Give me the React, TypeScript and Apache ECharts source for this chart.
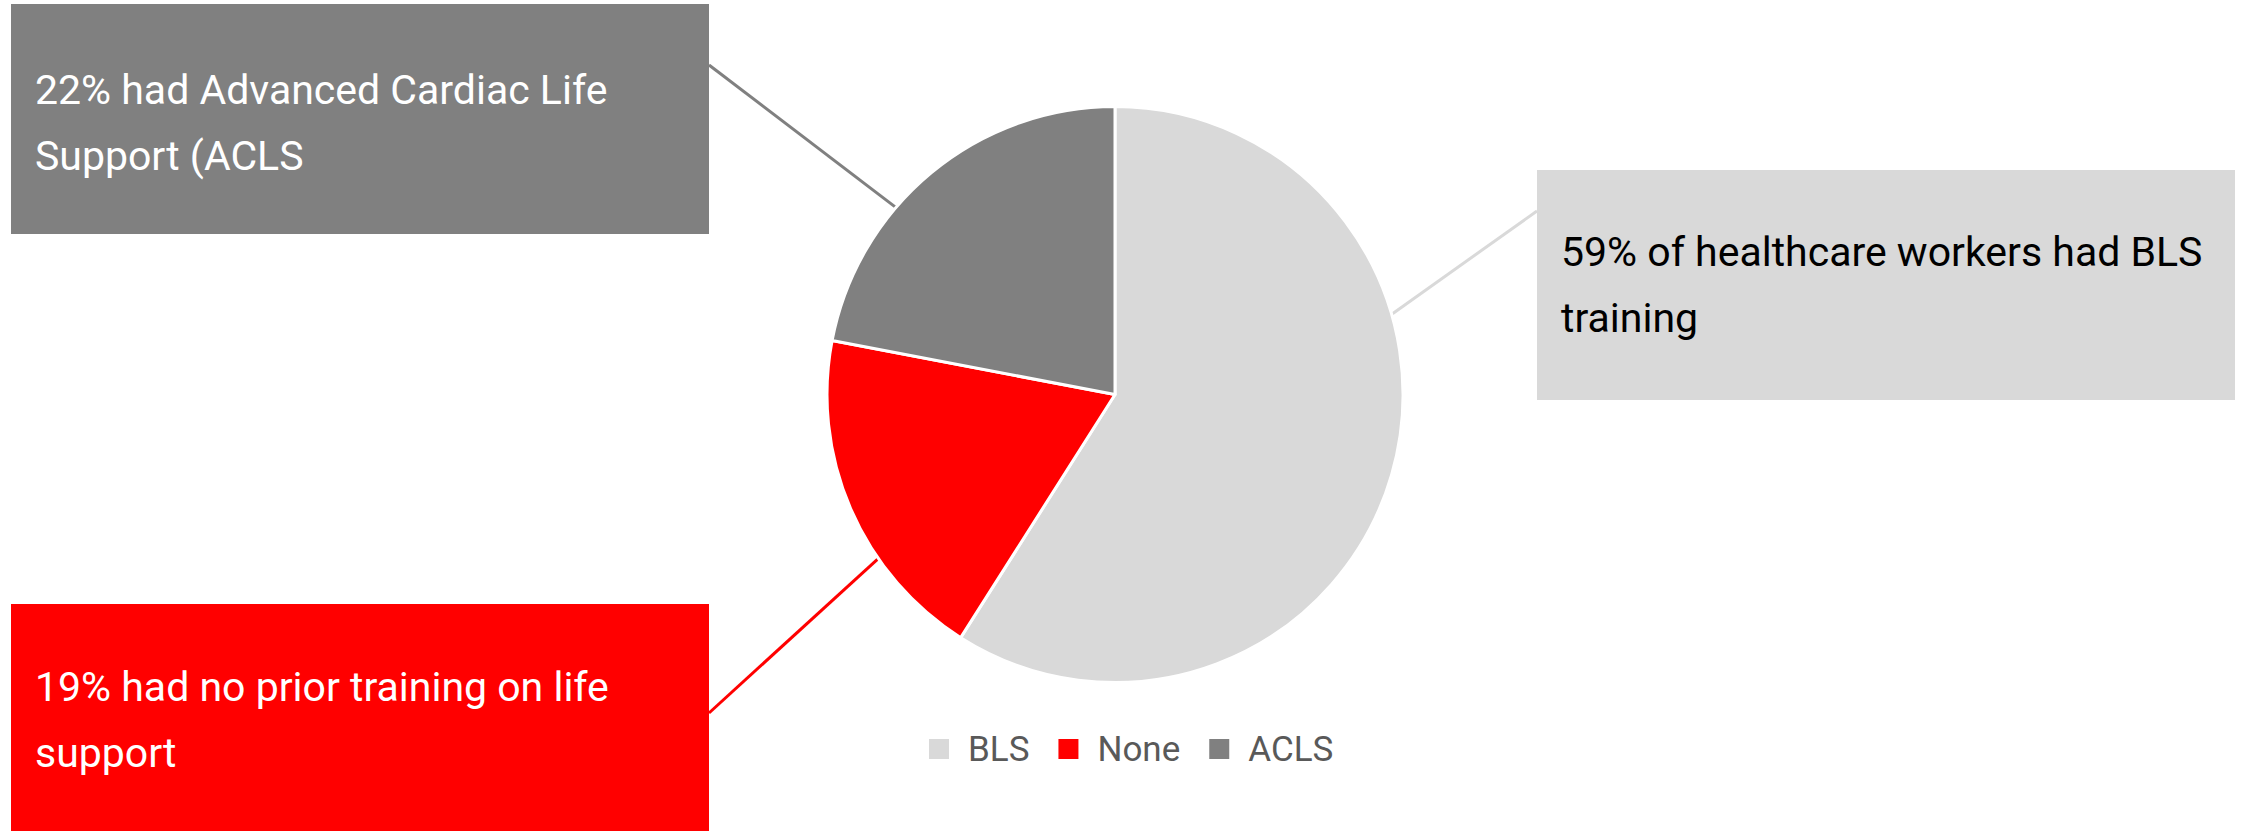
import React, { useEffect, useRef } from "react";
import * as echarts from "echarts";

// ---- data ----
const CATEGORIES = ["BLS", "None", "ACLS"];
const VALUES = [59, 19, 22];
const CAPTIONS = [
  "of healthcare workers had BLS\ntraining",
  "had no prior training on life\nsupport",
  "had Advanced Cardiac Life\nSupport (ACLS",
];
const COLORS = ["#D9D9D9", "#FF0000", "#808080"];
const TEXT_COLORS = ["#000000", "#FFFFFF", "#FFFFFF"];

// ---- callout layout (annotation positions, px) ----
const PIE_CENTER = [1115, 394.5];
const PIE_RADIUS = 288;
const BOX_W = 698;
const BOX_H = 230;
const LINE_H = 66;
const BOX_PAD_X = 24;
const BOX_POS = [
  [1537, 170],
  [11, 604],
  [11, 4],
];
const BOX_PAD_TOP = [49, 50, 53];
const LEADER_ATTACH = [
  [0, 41],
  [698, 109],
  [698, 61],
];
const LEADER_EDGE_ANGLE = [16.1, 214.7, 139.5];

const FONT = 'Roboto, "Liberation Sans Narrow", "DejaVu Sans Condensed", sans-serif';

export default function App() {
  const ref = useRef<HTMLDivElement>(null);

  useEffect(() => {
    document.body.style.margin = "0";
    if (!ref.current) return;
    const chart = echarts.init(ref.current, undefined, { renderer: "svg" });

    const data = CATEGORIES.map((name, i) => ({
      name,
      value: VALUES[i],
      itemStyle: { color: COLORS[i] },
      label: {
        formatter: `${VALUES[i]}% ${CAPTIONS[i]}`,
        color: TEXT_COLORS[i],
        backgroundColor: COLORS[i],
        padding: [
          BOX_PAD_TOP[i],
          BOX_PAD_X,
          BOX_H - 2 * LINE_H - BOX_PAD_TOP[i],
          BOX_PAD_X,
        ],
      },
      labelLine: { lineStyle: { color: COLORS[i], width: 3 } },
    }));

    chart.setOption({
      animation: false,
      backgroundColor: "#FFFFFF",
      legend: {
        show: true,
        left: 927,
        top: 727,
        padding: 0,
        icon: "rect",
        itemWidth: 22,
        itemHeight: 22,
        itemGap: 27,
        data: CATEGORIES,
        selectedMode: false,
        textStyle: {
          fontFamily: FONT,
          fontSize: 35,
          lineHeight: 44,
          color: "#595959",
          padding: [0, 0, 0, 13],
        },
      },
      series: [
        {
          type: "pie",
          center: PIE_CENTER,
          radius: PIE_RADIUS,
          startAngle: 90,
          clockwise: true,
          avoidLabelOverlap: false,
          silent: true,
          emphasis: { disabled: true },
          itemStyle: { borderColor: "#FFFFFF", borderWidth: 3 },
          label: {
            show: true,
            position: "outside",
            fontFamily: FONT,
            fontSize: 41,
            lineHeight: LINE_H,
            width: BOX_W - 2 * BOX_PAD_X,
            align: "left",
            overflow: "none",
          },
          labelLine: { show: true, length: 20, length2: 20 },
          labelLayout: (params: any) => {
            const i = params.dataIndex;
            const [bx, by] = BOX_POS[i];
            const a = (LEADER_EDGE_ANGLE[i] * Math.PI) / 180;
            const ex = PIE_CENTER[0] + (PIE_RADIUS - 1) * Math.cos(a);
            const ey = PIE_CENTER[1] - (PIE_RADIUS - 1) * Math.sin(a);
            const ax = bx + LEADER_ATTACH[i][0];
            const ay = by + LEADER_ATTACH[i][1];
            return {
              x: bx,
              y: by,
              align: "left",
              verticalAlign: "top",
              labelLinePoints: [
                [ex, ey],
                [ex, ey],
                [ax, ay],
              ],
            };
          },
          data,
        },
      ],
    });

    return () => {
      chart.dispose();
    };
  }, []);

  return (
    <div
      ref={ref}
      style={{ position: "absolute", left: 0, top: 0, width: 2242, height: 831 }}
    />
  );
}
